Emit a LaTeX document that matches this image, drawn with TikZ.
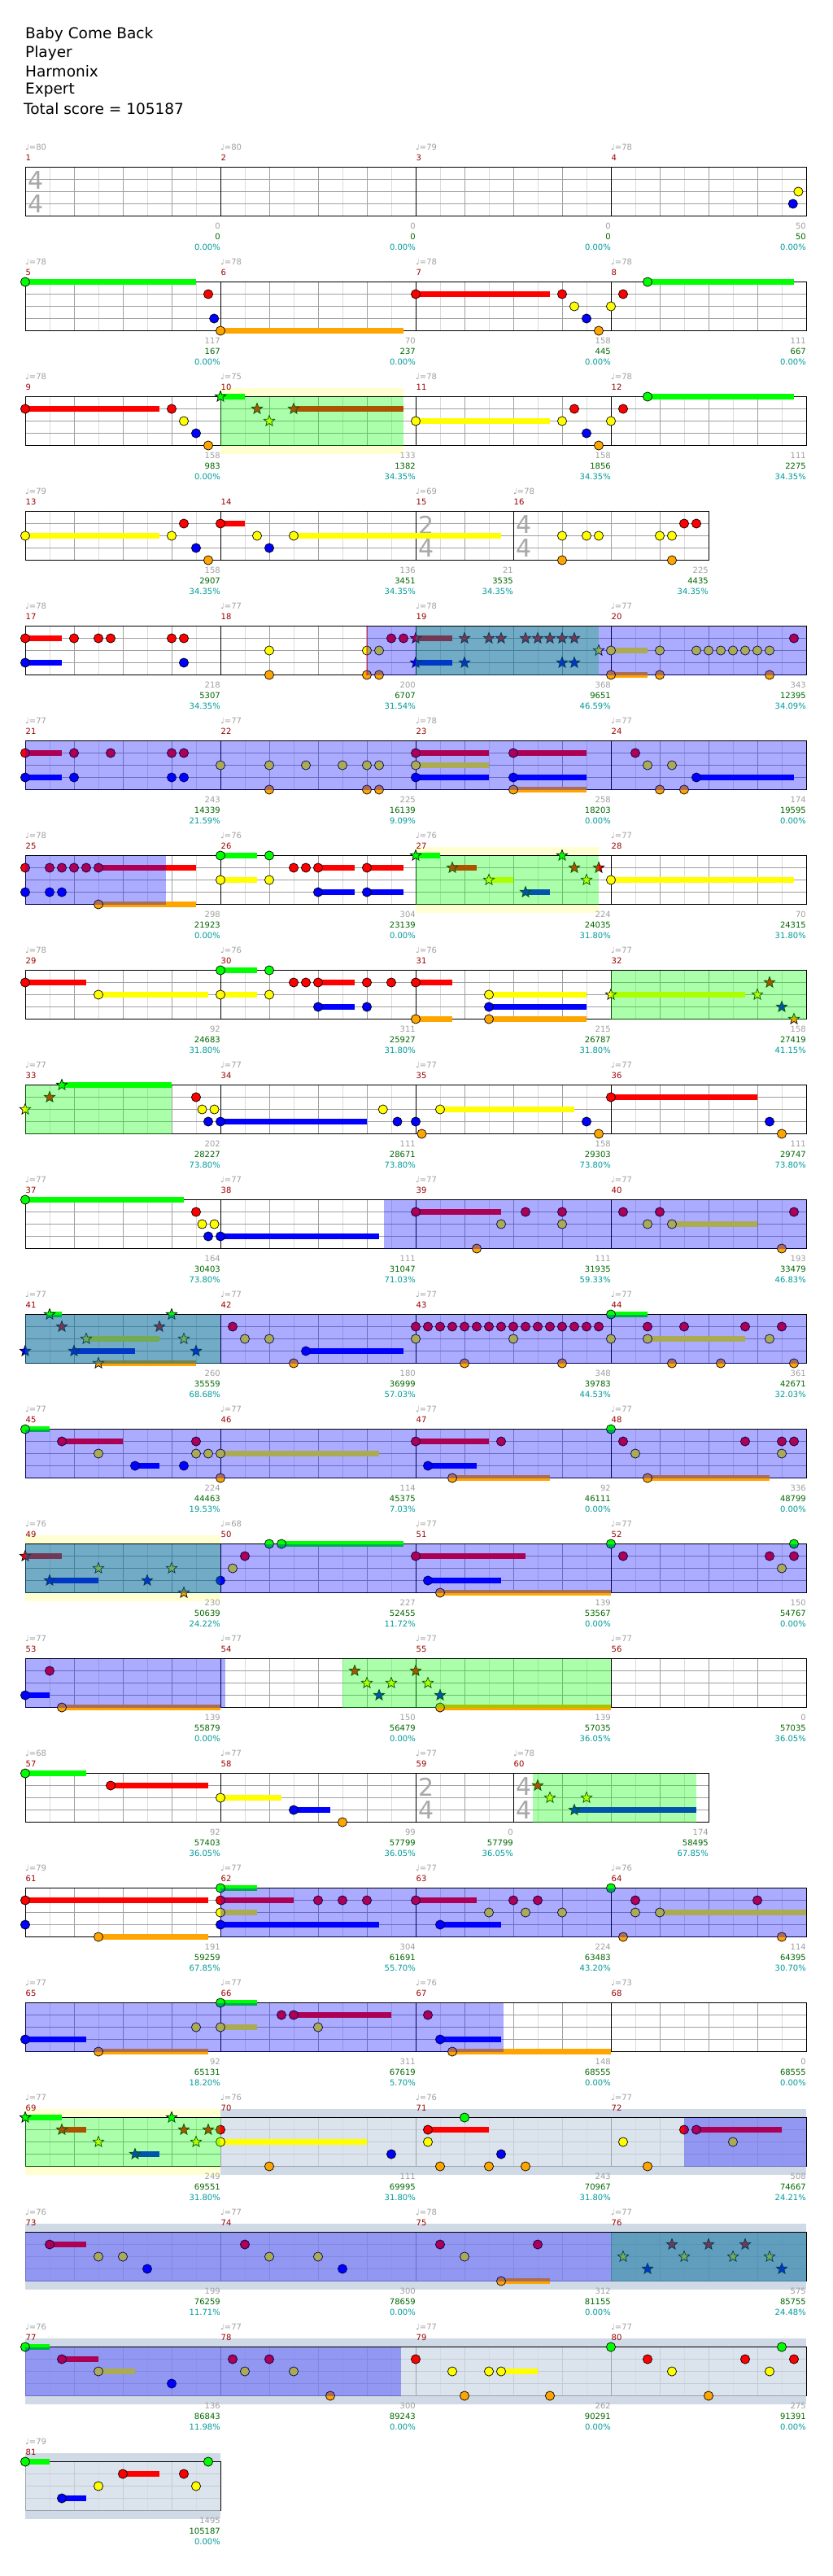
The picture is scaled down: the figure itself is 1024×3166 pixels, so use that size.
\documentclass[tikz,border=0pt]{standalone}
\usepackage{fontspec}
\setmainfont{DejaVu Sans}
\definecolor{lane0}{HTML}{00FF00}
\definecolor{lane1}{HTML}{FF0000}
\definecolor{lane2}{HTML}{FFFF00}
\definecolor{lane3}{HTML}{0000FF}
\definecolor{lane4}{HTML}{FFA500}
\definecolor{tgray}{HTML}{A0A0A0}
\definecolor{mred}{HTML}{990000}
\definecolor{sgreen}{HTML}{006600}
\definecolor{pcyan}{HTML}{009999}
\definecolor{backyellow}{HTML}{FFFFD2}
\definecolor{steel}{HTML}{D0DAE6}
\definecolor{halfgray}{HTML}{DCDCDC}
\definecolor{beatgray}{HTML}{A0A0A0}
\definecolor{tsgray}{HTML}{A8A8A8}
\tikzset{
  rowsc/.style={shift={(31,{205.5+141*(#1-1)})},x=60pt,y=-15pt},
  notec/.style={draw=black,line width=0.7pt},
  sus/.style={line width=6.5pt},
  lbl/.style={inner sep=0pt,font=\fontsize{10}{12}\selectfont},
  tsig/.style={inner sep=0pt,text=tsgray,font=\fontsize{30}{30}\selectfont},
  titl/.style={inner sep=0pt,anchor=west,font=\fontsize{18.5}{20}\selectfont},
}
\newcommand\staff[2]{%
  \fill[white] (0,0) rectangle (#1,4);
  \pgfmathtruncatemacro\nh{2*#1-1}%
  \foreach \k in {1,...,\nh} {\draw[halfgray,line width=0.8pt] ({\k/2},0) -- ({\k/2},4);}
  \pgfmathtruncatemacro\nb{#1-1}%
  \foreach \k in {1,...,\nb} {\draw[beatgray,line width=0.8pt] (\k,0) -- (\k,4);}
  \foreach \l in {1,2,3} {\draw[beatgray,line width=0.8pt] (0,\l) -- (#1,\l);}
  \foreach \x in {#2} {\draw[black,line width=0.8pt] (\x,0) -- (\x,4);}
  \draw[black,line width=1pt] (0,0) rectangle (#1,4);
}
\newcommand\N[2]{\filldraw[notec,fill=lane#2] (#1,#2) circle (5.6pt);}
\newcommand\NS[3]{\draw[sus,lane#2] (#1,#2) -- (#3,#2); \N{#1}{#2}}
\newcommand\ST[2]{\filldraw[notec,fill=lane#2,shift={(#1,#2)}] (90:7pt) -- (126:3pt) -- (162:7pt) -- (198:3pt) -- (234:7pt) -- (270:3pt) -- (306:7pt) -- (342:3pt) -- (18:7pt) -- (54:3pt) -- cycle;}
\newcommand\STS[3]{\draw[sus,lane#2] (#1,#2) -- (#3,#2); \ST{#1}{#2}}
\newcommand\BK[2]{\fill[backyellow] (#1,-0.67) rectangle (#2,4.7);}
\newcommand\BS[2]{\fill[steel] (#1,-0.67) rectangle (#2,4.7);}
\newcommand\BSI[2]{\fill[steel,opacity=0.75] (#1,0) rectangle (#2,4);}
\newcommand\SP[2]{\fill[lane0,opacity=0.33] (#1,0) rectangle (#2,4);}
\newcommand\OD[2]{\fill[lane3,opacity=0.33] (#1,0) rectangle (#2,4);}
\newcommand\TS[4]{%
  \node[tsig] (tsu#1) at (#2,1.1) [xshift=13pt] {#3};
  \node[tsig] (tsl#1) at (#2,3.03) [xshift=13pt] {#4};}
\newcommand\M[7]{%
  \if\relax\detokenize{#4}\relax\else
  \node[lbl,text=tgray,anchor=west,yshift=24.5pt] (tp#3) at (#1,0) {♩=#4};\fi
  \node[lbl,text=mred,anchor=west,xshift=0.5pt,yshift=11.5pt] (mn#3) at (#1,0) {#3};
  \node[lbl,text=tgray,anchor=east,yshift=-12.5pt] (ms#3) at (#2,4) {#5};
  \node[lbl,text=sgreen,anchor=east,yshift=-25.5pt] (cs#3) at (#2,4) {#6};
  \node[lbl,text=pcyan,anchor=east,yshift=-38.5pt] (pc#3) at (#2,4) {#7};}
\begin{document}
\begin{tikzpicture}[x=1pt,y=-1pt]
\useasboundingbox (0,0) rectangle (1024,3166);
\fill[white] (0,0) rectangle (1024,3166);
\node[titl] (t1) at (31,42) {Baby Come Back};
\node[titl] (t2) at (31,65) {Player};
\node[titl] (t3) at (31,88) {Harmonix};
\node[titl] (t4) at (31,111) {Expert};
\node[titl] (t5) at (29,134) {Total score = 105187};
% ---------- row 1
\begin{scope}[rowsc=1]
\staff{16}{4,8,12}
\TS{1}{0}{4}{4}
\N{15.84}{2} \N{15.73}{3}
\M{0}{4}{1}{80}{0}{0}{0.00\%}
\M{4}{8}{2}{80}{0}{0}{0.00\%}
\M{8}{12}{3}{79}{0}{0}{0.00\%}
\M{12}{16}{4}{78}{50}{50}{0.00\%}
\end{scope}
% ---------- row 2
\begin{scope}[rowsc=2]
\staff{16}{4,8,12}
\NS{0}{0}{3.5} \N{3.75}{1} \N{3.87}{3} \NS{4}{4}{7.75} \NS{8}{1}{10.75}
\N{11}{1} \N{11.25}{2} \N{11.5}{3} \N{11.75}{4} \N{12}{2} \N{12.25}{1} \NS{12.75}{0}{15.75}
\M{0}{4}{5}{78}{117}{167}{0.00\%}
\M{4}{8}{6}{78}{70}{237}{0.00\%}
\M{8}{12}{7}{78}{158}{445}{0.00\%}
\M{12}{16}{8}{78}{111}{667}{0.00\%}
\end{scope}
% ---------- row 3
\begin{scope}[rowsc=3]
\BK{4}{7.75}
\staff{16}{4,8,12}
\NS{0}{1}{2.75} \N{3}{1} \N{3.25}{2} \N{3.5}{3} \N{3.75}{4}
\STS{4}{0}{4.5} \ST{4.75}{1} \ST{5}{2} \STS{5.5}{1}{7.75}
\NS{8}{2}{10.75} \N{11}{2} \N{11.25}{1} \N{11.5}{3} \N{11.75}{4} \N{12}{2} \N{12.25}{1} \NS{12.75}{0}{15.75}
\SP{4}{7.75}
\M{0}{4}{9}{78}{158}{983}{0.00\%}
\M{4}{8}{10}{75}{133}{1382}{34.35\%}
\M{8}{12}{11}{78}{158}{1856}{34.35\%}
\M{12}{16}{12}{78}{111}{2275}{34.35\%}
\end{scope}
% ---------- row 4
\begin{scope}[rowsc=4]
\staff{14}{4,8,10}
\TS{15}{8}{2}{4} \TS{16}{10}{4}{4}
\NS{0}{2}{2.75} \N{3}{2} \N{3.25}{1} \N{3.5}{3} \N{3.75}{4} \NS{4}{1}{4.5} \N{4.75}{2} \N{5}{3}
\NS{5.5}{2}{9.75} \N{11}{2} \N{11}{4} \N{11.5}{2} \N{11.75}{2} \N{13}{2} \N{13.25}{2} \N{13.25}{4}
\N{13.5}{1} \N{13.75}{1}
\M{0}{4}{13}{79}{158}{2907}{34.35\%}
\M{4}{8}{14}{}{136}{3451}{34.35\%}
\M{8}{10}{15}{69}{21}{3535}{34.35\%}
\M{10}{14}{16}{78}{225}{4435}{34.35\%}
\end{scope}
% ---------- row 5
\begin{scope}[rowsc=5]
\staff{16}{4,8,12}
\NS{0}{1}{0.75} \NS{0}{3}{0.75} \N{1}{1} \N{1.5}{1} \N{1.75}{1} \N{3}{1} \N{3.25}{1} \N{3.25}{3}
\N{5}{2} \N{5}{4} \N{7}{2} \N{7}{4} \N{7.25}{2} \N{7.25}{4} \N{7.5}{1} \N{7.75}{1}
\STS{8}{1}{8.75} \STS{8}{3}{8.75} \ST{9}{1} \ST{9}{3} \ST{9.5}{1} \ST{9.75}{1} \ST{10.25}{1}
\ST{10.5}{1} \ST{10.75}{1} \ST{11}{1} \ST{11}{3} \ST{11.25}{1} \ST{11.25}{3} \ST{11.75}{2}
\NS{12}{2}{12.75} \NS{12}{4}{12.75} \N{13}{2} \N{13}{4} \N{13.75}{2} \N{14}{2} \N{14.25}{2}
\N{14.5}{2} \N{14.75}{2} \N{15}{2} \N{15.25}{2} \N{15.25}{4} \N{15.75}{1}
\draw[red,opacity=0.4,line width=2.5pt] (7,0) -- (7,4);
\SP{8}{11.75} \OD{7}{16}
\M{0}{4}{17}{78}{218}{5307}{34.35\%}
\M{4}{8}{18}{77}{200}{6707}{31.54\%}
\M{8}{12}{19}{78}{368}{9651}{46.59\%}
\M{12}{16}{20}{77}{343}{12395}{34.09\%}
\end{scope}
% ---------- row 6
\begin{scope}[rowsc=6]
\staff{16}{4,8,12}
\NS{0}{1}{0.75} \NS{0}{3}{0.75} \N{1}{1} \N{1}{3} \N{1.75}{1} \N{3}{1} \N{3.25}{1} \N{3}{3} \N{3.25}{3}
\N{4}{2} \N{5}{2} \N{5}{4} \N{5.75}{2} \N{6.5}{2} \N{7}{2} \N{7.25}{2} \N{7}{4} \N{7.25}{4}
\NS{8}{1}{9.5} \NS{8}{2}{9.5} \NS{8}{3}{9.5} \NS{10}{1}{11.5} \NS{10}{3}{11.5} \NS{10}{4}{11.5}
\N{12.5}{1} \N{12.75}{2} \N{13.25}{2} \N{13}{4} \N{13.5}{4} \NS{13.75}{3}{15.75}
\OD{0}{16}
\M{0}{4}{21}{77}{243}{14339}{21.59\%}
\M{4}{8}{22}{77}{225}{16139}{9.09\%}
\M{8}{12}{23}{78}{258}{18203}{0.00\%}
\M{12}{16}{24}{77}{174}{19595}{0.00\%}
\end{scope}
% ---------- row 7
\begin{scope}[rowsc=7]
\BK{8}{11.75}
\staff{16}{4,8,12}
\N{0}{1} \N{0.5}{1} \N{0.75}{1} \N{1}{1} \N{1.25}{1} \NS{1.5}{1}{3.5} \N{0}{3} \N{0.5}{3} \N{0.75}{3} \NS{1.5}{4}{3.5}
\NS{4}{0}{4.75} \NS{4}{2}{4.75} \N{5}{0} \N{5}{2} \N{5.5}{1} \N{5.75}{1} \NS{6}{1}{6.75} \NS{6}{3}{6.75}
\NS{7}{1}{7.75} \NS{7}{3}{7.75}
\STS{8}{0}{8.5} \STS{8.75}{1}{9.25} \STS{9.5}{2}{10} \STS{10.25}{3}{10.75} \ST{11}{0} \ST{11.25}{1} \ST{11.5}{2} \ST{11.75}{1}
\NS{12}{2}{15.75}
\SP{8}{11.75} \OD{0}{2.875}
\M{0}{4}{25}{78}{298}{21923}{0.00\%}
\M{4}{8}{26}{76}{304}{23139}{0.00\%}
\M{8}{12}{27}{76}{224}{24035}{31.80\%}
\M{12}{16}{28}{77}{70}{24315}{31.80\%}
\end{scope}
% ---------- row 8
\begin{scope}[rowsc=8]
\staff{16}{4,8,12}
\NS{0}{1}{1.25} \NS{1.5}{2}{3.75} \NS{4}{0}{4.75} \NS{4}{2}{4.75} \N{5}{0} \N{5}{2} \N{5.5}{1} \N{5.75}{1}
\NS{6}{1}{6.75} \NS{6}{3}{6.75} \N{7}{1} \N{7}{3} \N{7.5}{1}
\NS{8}{1}{8.75} \NS{8}{4}{8.75} \NS{9.5}{2}{11.5} \NS{9.5}{3}{11.5} \NS{9.5}{4}{11.5}
\STS{12}{2}{14.75} \ST{15}{2} \ST{15.25}{1} \ST{15.5}{3} \ST{15.75}{4}
\SP{12}{16}
\M{0}{4}{29}{78}{92}{24683}{31.80\%}
\M{4}{8}{30}{76}{311}{25927}{31.80\%}
\M{8}{12}{31}{76}{215}{26787}{31.80\%}
\M{12}{16}{32}{77}{158}{27419}{41.15\%}
\end{scope}
% ---------- row 9
\begin{scope}[rowsc=9]
\staff{16}{4,8,12}
\ST{0}{2} \ST{0.5}{1} \STS{0.75}{0}{3}
\N{3.5}{1} \N{3.625}{2} \N{3.875}{2} \N{3.75}{3} \NS{4}{3}{7} \N{7.33}{2} \N{7.625}{3} \N{8}{3} \N{8.125}{4}
\NS{8.5}{2}{11.25} \N{11.5}{3} \N{11.75}{4} \NS{12}{1}{15} \N{15.25}{3} \N{15.5}{4}
\SP{0}{3}
\M{0}{4}{33}{77}{202}{28227}{73.80\%}
\M{4}{8}{34}{77}{111}{28671}{73.80\%}
\M{8}{12}{35}{77}{158}{29303}{73.80\%}
\M{12}{16}{36}{77}{111}{29747}{73.80\%}
\end{scope}
% ---------- row 10
\begin{scope}[rowsc=10]
\staff{16}{4,8,12}
\NS{0}{0}{3.25} \N{3.5}{1} \N{3.625}{2} \N{3.875}{2} \N{3.75}{3} \NS{4}{3}{7.25}
\NS{8}{1}{9.75} \N{9.25}{4} \N{9.75}{2} \N{10.25}{1} \N{11}{1} \N{11}{2}
\N{12.25}{1} \N{12.75}{2} \N{13}{1} \NS{13.25}{2}{15} \N{15.5}{4} \N{15.75}{1}
\OD{7.35}{16}
\M{0}{4}{37}{77}{164}{30403}{73.80\%}
\M{4}{8}{38}{77}{111}{31047}{71.03\%}
\M{8}{12}{39}{77}{111}{31935}{59.33\%}
\M{12}{16}{40}{77}{193}{33479}{46.83\%}
\end{scope}
% ---------- row 11
\begin{scope}[rowsc=11]
\staff{16}{4,8,12}
\ST{0}{3} \STS{0.5}{0}{0.75} \ST{0.75}{1} \STS{1}{3}{2.25} \STS{1.25}{2}{2.75} \STS{1.5}{4}{3.5}
\ST{2.75}{1} \ST{3}{0} \ST{3.25}{2} \ST{3.5}{3}
\N{4.25}{1} \N{4.5}{2} \N{5}{2} \N{5.5}{4} \NS{5.75}{3}{7.75}
\foreach \q in {8,8.25,...,11.8} {\N{\q}{1}}
\N{8}{2} \N{9}{4} \N{10}{2} \N{11}{4}
\NS{12}{0}{12.75} \N{12}{2} \N{12.75}{1} \NS{12.75}{2}{14.75} \N{13.5}{1} \N{13.25}{4} \N{14.25}{4}
\N{14.75}{1} \N{15.25}{2} \N{15.5}{1} \N{15.75}{4}
\SP{0}{4} \OD{0}{16}
\M{0}{4}{41}{77}{260}{35559}{68.68\%}
\M{4}{8}{42}{77}{180}{36999}{57.03\%}
\M{8}{12}{43}{77}{348}{39783}{44.53\%}
\M{12}{16}{44}{77}{361}{42671}{32.03\%}
\end{scope}
% ---------- row 12
\begin{scope}[rowsc=12]
\staff{16}{4,8,12}
\NS{0}{0}{0.5} \NS{0.75}{1}{2} \N{1.5}{2} \NS{2.25}{3}{2.75} \N{3.25}{3} \N{3.5}{1} \N{3.5}{2} \N{3.75}{2}
\NS{4}{2}{7.25} \N{4}{4}
\NS{8}{1}{9.5} \N{9.75}{1} \NS{8.25}{3}{9.25} \NS{8.75}{4}{10.75}
\N{12}{0} \N{12.25}{1} \N{12.5}{2} \NS{12.75}{4}{15.25} \N{14.75}{1} \N{15.5}{1} \N{15.75}{1} \N{15.5}{2}
\OD{0}{16}
\M{0}{4}{45}{77}{224}{44463}{19.53\%}
\M{4}{8}{46}{77}{114}{45375}{7.03\%}
\M{8}{12}{47}{77}{92}{46111}{0.00\%}
\M{12}{16}{48}{77}{336}{48799}{0.00\%}
\end{scope}
% ---------- row 13
\begin{scope}[rowsc=13]
\BK{0}{4}
\staff{16}{4,8,12}
\STS{0}{1}{0.75} \STS{0.5}{3}{1.5} \ST{1.5}{2} \ST{2.5}{3} \ST{3}{2} \ST{3.25}{4}
\N{4}{3} \N{4.25}{2} \N{4.5}{1} \N{5}{0} \NS{5.25}{0}{7.75}
\NS{8}{1}{10.25} \NS{8.25}{3}{9.75} \NS{8.5}{4}{12}
\N{12}{0} \N{12.25}{1} \N{15.25}{1} \N{15.5}{2} \N{15.75}{1} \N{15.75}{0}
\SP{0}{4} \OD{0}{16}
\M{0}{4}{49}{76}{230}{50639}{24.22\%}
\M{4}{8}{50}{68}{227}{52455}{11.72\%}
\M{8}{12}{51}{77}{139}{53567}{0.00\%}
\M{12}{16}{52}{77}{150}{54767}{0.00\%}
\end{scope}
% ---------- row 14
\begin{scope}[rowsc=14]
\staff{16}{4,8,12}
\NS{0}{3}{0.5} \N{0.5}{1} \NS{0.75}{4}{4}
\ST{6.75}{1} \ST{7}{2} \ST{7.25}{3} \ST{7.5}{2} \ST{8}{1} \ST{8.25}{2} \ST{8.5}{3}
\NS{8.5}{4}{12}
\OD{0}{4.1} \SP{6.5}{12}
\M{0}{4}{53}{77}{139}{55879}{0.00\%}
\M{4}{8}{54}{77}{150}{56479}{0.00\%}
\M{8}{12}{55}{77}{139}{57035}{36.05\%}
\M{12}{16}{56}{77}{0}{57035}{36.05\%}
\end{scope}
% ---------- row 15
\begin{scope}[rowsc=15]
\staff{14}{4,8,10}
\TS{59}{8}{2}{4} \TS{60}{10}{4}{4}
\NS{0}{0}{1.25} \NS{1.75}{1}{3.75} \NS{4}{2}{5.25} \NS{5.5}{3}{6.25} \N{6.5}{4}
\ST{10.5}{1} \ST{10.75}{2} \STS{11.25}{3}{13.75} \ST{11.5}{2}
\SP{10.4}{13.75}
\M{0}{4}{57}{68}{92}{57403}{36.05\%}
\M{4}{8}{58}{77}{99}{57799}{36.05\%}
\M{8}{10}{59}{77}{0}{57799}{36.05\%}
\M{10}{14}{60}{78}{174}{58495}{67.85\%}
\end{scope}
% ---------- row 16
\begin{scope}[rowsc=16]
\staff{16}{4,8,12}
\NS{0}{1}{3.75} \N{0}{3} \NS{1.5}{4}{3.75}
\NS{4}{0}{4.75} \NS{4}{1}{5.5} \NS{4}{2}{4.75} \NS{4}{3}{7.25} \N{6}{1} \N{6.5}{1} \N{7}{1}
\NS{8}{1}{9.25} \N{10}{1} \N{10.5}{1} \NS{8.5}{3}{9.75} \N{9.5}{2} \N{10.25}{2} \N{11}{2}
\N{12}{0} \N{12.5}{1} \N{12.5}{2} \NS{13}{2}{16} \N{12.25}{4} \N{15}{1} \N{15.5}{4}
\OD{4}{16}
\M{0}{4}{61}{79}{191}{59259}{67.85\%}
\M{4}{8}{62}{77}{304}{61691}{55.70\%}
\M{8}{12}{63}{77}{224}{63483}{43.20\%}
\M{12}{16}{64}{76}{114}{64395}{30.70\%}
\end{scope}
% ---------- row 17
\begin{scope}[rowsc=17]
\staff{16}{4,8,12}
\NS{0}{3}{1.25} \NS{1.5}{4}{3.75} \N{3.5}{2}
\NS{4}{0}{4.75} \NS{4}{2}{4.75} \N{5.25}{1} \NS{5.5}{1}{7.5} \N{6}{2}
\N{8.25}{1} \NS{8.5}{3}{9.75} \NS{8.75}{4}{12}
\OD{0}{9.8}
\M{0}{4}{65}{77}{92}{65131}{18.20\%}
\M{4}{8}{66}{77}{311}{67619}{5.70\%}
\M{8}{12}{67}{76}{148}{68555}{0.00\%}
\M{12}{16}{68}{73}{0}{68555}{0.00\%}
\end{scope}
% ---------- row 18
\begin{scope}[rowsc=18]
\BK{0}{4} \BS{4}{16}
\staff{16}{4,8,12}
\BSI{4}{16}
\STS{0}{0}{0.75} \STS{0.75}{1}{1.25} \ST{1.5}{2} \STS{2.25}{3}{2.75} \ST{3}{0} \ST{3.25}{1} \ST{3.5}{2} \ST{3.75}{1}
\N{4}{1} \NS{4}{2}{7} \N{5}{4} \N{7.5}{3}
\NS{8.25}{1}{9.5} \N{8.25}{2} \N{9}{0} \N{8.5}{4} \N{9.5}{4} \N{9.75}{3} \N{10.25}{4}
\N{12.25}{2} \N{12.75}{4} \N{13.5}{1} \NS{13.75}{1}{15.5} \N{14.5}{2}
\SP{0}{4} \OD{13.5}{16}
\M{0}{4}{69}{77}{249}{69551}{31.80\%}
\M{4}{8}{70}{76}{111}{69995}{31.80\%}
\M{8}{12}{71}{76}{243}{70967}{31.80\%}
\M{12}{16}{72}{77}{508}{74667}{24.21\%}
\end{scope}
% ---------- row 19
\begin{scope}[rowsc=19]
\BS{0}{16}
\staff{16}{4,8,12}
\BSI{0}{16}
\NS{0.5}{1}{1.25} \N{1.5}{2} \N{2}{2} \N{2.5}{3}
\N{4.5}{1} \N{5}{2} \N{6}{2} \N{6.5}{3}
\N{8.5}{1} \N{9}{2} \NS{9.75}{4}{10.75} \N{10.5}{1}
\ST{12.25}{2} \ST{12.75}{3} \ST{13.25}{1} \ST{13.5}{2} \ST{14}{1} \ST{14.5}{2} \ST{14.75}{1} \ST{15.25}{2} \ST{15.5}{3}
\SP{12}{16} \OD{0}{16}
\M{0}{4}{73}{76}{199}{76259}{11.71\%}
\M{4}{8}{74}{77}{300}{78659}{0.00\%}
\M{8}{12}{75}{78}{312}{81155}{0.00\%}
\M{12}{16}{76}{77}{575}{85755}{24.48\%}
\end{scope}
% ---------- row 20
\begin{scope}[rowsc=20]
\BS{0}{16}
\staff{16}{4,8,12}
\BSI{0}{16}
\NS{0}{0}{0.5} \NS{0.75}{1}{1.5} \NS{1.5}{2}{2.25} \N{3}{3}
\N{4.25}{1} \N{4.5}{2} \N{5}{1} \N{5.5}{2} \N{6.25}{4}
\N{8}{1} \N{8.75}{2} \N{9.5}{2} \NS{9.75}{2}{10.5} \N{9}{4} \N{10.75}{4}
\N{12}{0} \N{12.75}{1} \N{13.25}{2} \N{14}{4} \N{14.75}{1} \N{15.25}{2} \N{15.5}{0} \N{15.75}{1}
\OD{0}{7.7}
\M{0}{4}{77}{76}{136}{86843}{11.98\%}
\M{4}{8}{78}{77}{300}{89243}{0.00\%}
\M{8}{12}{79}{77}{262}{90291}{0.00\%}
\M{12}{16}{80}{77}{275}{91391}{0.00\%}
\end{scope}
% ---------- row 21
\begin{scope}[rowsc=21]
\BS{0}{4}
\staff{4}{0}
\BSI{0}{4}
\NS{0}{0}{0.5} \NS{0.75}{3}{1.25} \N{1.5}{2} \NS{2}{1}{2.75} \N{3.25}{1} \N{3.5}{2} \N{3.75}{0}
\M{0}{4}{81}{79}{1495}{105187}{0.00\%}
\end{scope}
\end{tikzpicture}
\end{document}
